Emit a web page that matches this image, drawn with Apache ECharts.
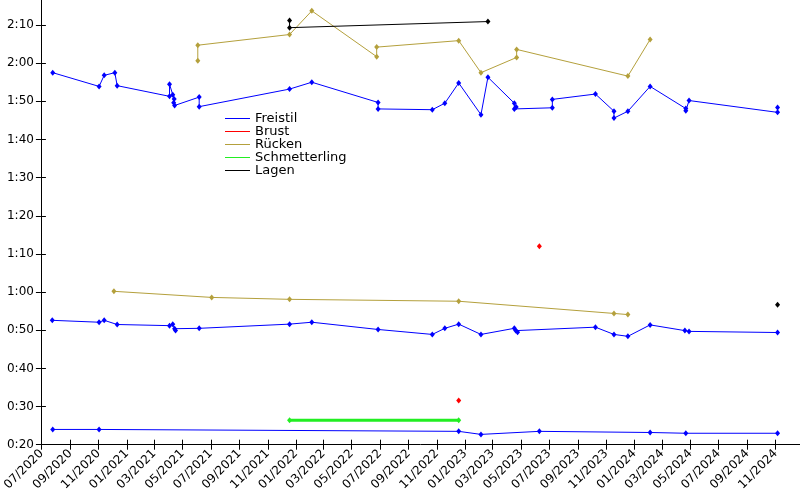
<!DOCTYPE html>
<html>
<head>
<meta charset="utf-8">
<script src="https://cdn.jsdelivr.net/npm/echarts@6/dist/echarts.min.js"></script>
<style>
html,body{margin:0;padding:0;background:#fff;}
#chart{width:800px;height:500px;}
</style>
</head>
<body>
<div id="chart"></div>
<script>
// ---- Data (times in seconds) ----
var strokeNames = ['Freistil', 'Brust', 'Rücken', 'Schmetterling', 'Lagen'];

var freistil200Dates = ['2020-07-25','2020-11-02','2020-11-13','2020-12-06','2020-12-11','2021-04-03','2021-04-03','2021-04-10','2021-04-13','2021-04-12','2021-04-14','2021-06-06','2021-06-06','2021-12-18','2022-02-04','2022-06-27','2022-06-27','2022-10-22','2022-11-18','2022-12-18','2023-02-04','2023-02-19','2023-04-17','2023-04-17','2023-04-21','2023-07-08','2023-07-08','2023-10-09','2023-11-18','2023-11-18','2023-12-18','2024-02-04','2024-04-21','2024-04-21','2024-04-28','2024-11-05','2024-11-05'];
var freistil200Times = [117.5,113.9,116.8,117.5,114.1,111.3,114.5,111.7,110.6,109.6,108.9,111.1,108.6,113.2,115.0,109.7,108.0,107.8,109.5,114.8,106.5,116.3,109.5,108.0,108.5,108.3,110.5,111.9,107.4,105.6,107.4,113.9,108.1,107.5,110.2,107.1,108.4];

var freistil100Dates = ['2020-07-24','2020-11-02','2020-11-13','2020-12-11','2021-04-03','2021-04-10','2021-04-14','2021-04-16','2021-06-06','2021-12-18','2022-02-04','2022-06-27','2022-10-22','2022-11-18','2022-12-18','2023-02-04','2023-04-17','2023-04-20','2023-04-24','2023-10-09','2023-11-18','2023-12-18','2024-02-04','2024-04-19','2024-04-28','2024-11-05'];
var freistil100Times = [52.6,52.1,52.6,51.5,51.2,51.6,50.4,49.9,50.5,51.6,52.1,50.2,48.9,50.5,51.6,48.9,50.5,49.9,49.5,50.8,48.9,48.4,51.4,49.9,49.7,49.4];

var freistil50Dates = ['2020-07-25','2020-11-02','2022-12-18','2023-02-04','2023-06-10','2024-02-04','2024-04-21','2024-11-05'];
var freistil50Times = [24.0,24.0,23.5,22.7,23.5,23.2,23.0,23.0];

var brust100Dates = ['2023-06-10'];
var brust100Times = [72.0];
var brust50Dates = ['2022-12-18'];
var brust50Times = [31.6];

var ruecken200Dates = ['2021-06-03','2021-06-03','2021-12-18','2022-02-04','2022-06-24','2022-06-24','2022-12-18','2023-02-04','2023-04-22','2023-04-22','2023-12-18','2024-02-04'];
var ruecken200Times = [120.6,124.7,127.5,133.7,121.7,124.2,125.9,117.5,121.5,123.6,116.6,126.2];

var ruecken100Dates = ['2020-12-04','2021-07-03','2021-12-18','2022-12-18','2023-11-18','2023-12-18'];
var ruecken100Times = [60.2,58.6,58.1,57.6,54.4,54.1];

var schmetterling50Dates = ['2021-12-18','2022-12-18'];
var schmetterling50Times = [26.4,26.4];

var lagen200Dates = ['2021-12-18','2021-12-18','2023-02-19'];
var lagen200Times = [131.2,129.3,130.9];

var lagen100Dates = ['2024-11-05'];
var lagen100Times = [56.7];

// tick labels
var xTickMonths = ['2020-07','2020-09','2020-11','2021-01','2021-03','2021-05','2021-07','2021-09','2021-11','2022-01','2022-03','2022-05','2022-07','2022-09','2022-11','2023-01','2023-03','2023-05','2023-07','2023-09','2023-11','2024-01','2024-03','2024-05','2024-07','2024-09','2024-11'];
var yTicks = [20,30,40,50,60,70,80,90,100,110,120,130];

// ---- Build ----
var DAY = 86400000;
function pairs(d, t) { return d.map(function (s, i) { return [Date.parse(s), t[i]]; }); }
var xTickValues = xTickMonths.map(function (m) { return Date.parse(m + '-01'); });

var colors = { 'Freistil': '#0000ff', 'Brust': '#ff0000', 'Rücken': '#b4a03c', 'Schmetterling': '#22ee22', 'Lagen': '#000000' };
var FONT = 'DejaVu Sans';

function mkSeries(name, d, t, lw) {
  return {
    type: 'line', name: name, data: pairs(d, t),
    xAxisIndex: 0, yAxisIndex: 0,
    symbol: 'diamond', symbolSize: [5, 6], showSymbol: true,
    lineStyle: { color: colors[name], width: lw || 1 },
    itemStyle: { color: colors[name] },
    animation: false, emphasis: { disabled: true }
  };
}

var series = [
  mkSeries('Freistil', freistil200Dates, freistil200Times),
  mkSeries('Freistil', freistil100Dates, freistil100Times),
  mkSeries('Freistil', freistil50Dates, freistil50Times),
  mkSeries('Brust', brust100Dates, brust100Times),
  mkSeries('Brust', brust50Dates, brust50Times),
  mkSeries('Rücken', ruecken200Dates, ruecken200Times),
  mkSeries('Rücken', ruecken100Dates, ruecken100Times),
  mkSeries('Schmetterling', schmetterling50Dates, schmetterling50Times, 3),
  mkSeries('Lagen', lagen200Dates, lagen200Times),
  mkSeries('Lagen', lagen100Dates, lagen100Times)
];

function pad2(n) { return (n < 10 ? '0' : '') + n; }
function fmtMonth(v) { var d = new Date(v); return pad2(d.getUTCMonth() + 1) + '/' + d.getUTCFullYear(); }
function fmtTime(v) { var m = Math.floor(v / 60); var s = Math.round(v - m * 60); return m + ':' + pad2(s); }

var xMin = Date.parse('2020-07-01') - 1.5 * DAY;
var xMax = Date.parse('2020-07-01') + 1636.4 * DAY;
var yMin = 20, yMax = 136.55;

var axisLine = { show: true, onZero: false, lineStyle: { color: '#000', width: 1 } };

var option = {
  backgroundColor: '#fff',
  animation: false,
  grid: { left: 40, right: 0, top: 0, bottom: 55.3, containLabel: false },
  legend: {
    data: strokeNames.map(function (n) { return { name: n, itemStyle: { color: colors[n] } }; }),
    orient: 'vertical', left: 225, top: 112, padding: 0,
    itemWidth: 25, itemHeight: 1, itemGap: 0,
    icon: 'rect',
    textStyle: { fontFamily: FONT, fontSize: 13, color: '#000' },
    selectedMode: false
  },
  xAxis: [
    {
      type: 'value', min: xMin, max: xMax,
      axisLine: axisLine,
      axisTick: { show: true, inside: false, length: 5, customValues: xTickValues, lineStyle: { color: '#000' } },
      axisLabel: { show: true, customValues: xTickValues, rotate: 45, margin: 7, formatter: fmtMonth,
        fontFamily: FONT, fontSize: 12, color: '#000' },
      splitLine: { show: false }
    },
    {
      type: 'value', min: xMin, max: xMax, position: 'bottom',
      axisLine: { show: false, onZero: false },
      axisTick: { show: true, inside: true, length: 5, customValues: xTickValues, lineStyle: { color: '#000' } },
      axisLabel: { show: false },
      splitLine: { show: false }
    }
  ],
  yAxis: [
    {
      type: 'value', min: yMin, max: yMax,
      axisLine: axisLine,
      axisTick: { show: true, inside: false, length: 5, customValues: yTicks, lineStyle: { color: '#000' } },
      axisLabel: { show: true, customValues: yTicks, margin: 7, formatter: fmtTime,
        fontFamily: FONT, fontSize: 12, color: '#000' },
      splitLine: { show: false }
    },
    {
      type: 'value', min: yMin, max: yMax, position: 'left',
      axisLine: { show: false, onZero: false },
      axisTick: { show: true, inside: true, length: 5, customValues: yTicks, lineStyle: { color: '#000' } },
      axisLabel: { show: false },
      splitLine: { show: false }
    }
  ],
  series: series
};

var chart = echarts.init(document.getElementById('chart'), null, { renderer: 'canvas' });
chart.setOption(option);
</script>
</body>
</html>
